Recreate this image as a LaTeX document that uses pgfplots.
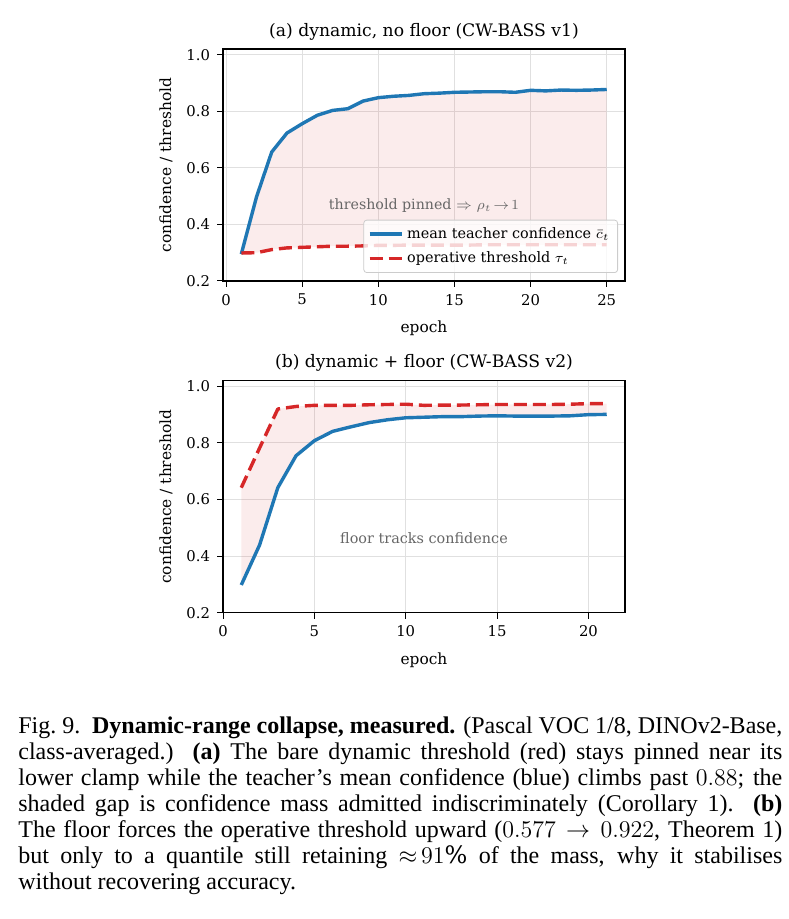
\documentclass[border=0pt]{standalone}
\usepackage{fontspec}
\setmainfont{DejaVu Serif}
\newfontfamily\capfont{Liberation Serif}
\usepackage{pgfplots}
\pgfplotsset{compat=1.18}
\usepackage{pgfplotstable}
\usepgfplotslibrary{fillbetween}

\definecolor{tabblue}{HTML}{1F77B4}
\definecolor{tabred}{HTML}{D62728}

% panel (a): dynamic threshold, no floor
\pgfplotstableread{
epoch conf thr
1  0.295 0.299
2  0.497 0.300
3  0.656 0.311
4  0.723 0.317
5  0.756 0.319
6  0.786 0.321
7  0.803 0.323
8  0.809 0.323
9  0.836 0.324
10 0.848 0.326
11 0.853 0.326
12 0.856 0.327
13 0.862 0.327
14 0.864 0.327
15 0.867 0.327
16 0.868 0.327
17 0.869 0.328
18 0.869 0.328
19 0.867 0.328
20 0.874 0.328
21 0.872 0.328
22 0.875 0.328
23 0.874 0.328
24 0.875 0.328
25 0.877 0.328
}\dataA

% panel (b): dynamic threshold + floor
\pgfplotstableread{
epoch conf thr
1  0.298 0.642
2  0.439 0.782
3  0.642 0.920
4  0.755 0.929
5  0.808 0.933
6  0.841 0.933
7  0.857 0.933
8  0.872 0.935
9  0.882 0.936
10 0.889 0.937
11 0.891 0.933
12 0.893 0.934
13 0.893 0.934
14 0.895 0.935
15 0.896 0.936
16 0.895 0.936
17 0.895 0.936
18 0.895 0.936
19 0.896 0.937
20 0.900 0.939
21 0.901 0.939
}\dataB

\pgfplotsset{
  cwpanel/.style={
    scale only axis, width=201pt, height=116pt,
    ymin=0.2, ymax=1.02,
    ytick={0.2,0.4,0.6,0.8,1.0},
    yticklabel style={/pgf/number format/fixed,
      /pgf/number format/fixed zerofill, /pgf/number format/precision=1},
    /pgf/number format/assume math mode=true,
    grid=major, grid style={black!12, line width=0.5pt},
    tick align=outside, tick pos=left, major tick length=3pt,
    every tick/.style={black, line width=0.5pt},
    axis line style={line width=0.6pt},
    tick label style={font=\fontsize{7.4}{8}\selectfont},
    label style={font=\fontsize{7.7}{8}\selectfont},
    title style={font=\fontsize{8.6}{9}\selectfont, yshift=-5pt},
    xlabel=epoch, ylabel={confidence / threshold},
    xlabel style={yshift=-1pt},
    ylabel style={yshift=0pt},
  },
  conf/.style={tabblue, line width=1.7pt, line join=round},
  thr/.style={tabred, line width=1.7pt, dash pattern=on 6.5pt off 3pt, line join=round},
}

\begin{document}
\begin{tikzpicture}

\begin{axis}[cwpanel,
  at={(111.5pt,-140.5pt)}, anchor=south west,
  xmin=-0.2, xmax=26.2, xtick={0,5,10,15,20,25},
  title={(a) dynamic, no floor (CW-BASS v1)},
  legend style={at={(1,0)}, anchor=south east, xshift=-3.5pt, yshift=4pt,
    font=\fontsize{7.2}{9}\selectfont, draw=black!20, rounded corners=1.5pt,
    fill=white, fill opacity=0.8, draw opacity=1, text opacity=1,
    inner xsep=2pt, inner ysep=1.5pt, row sep=1.3pt, cells={anchor=west}},
  legend image code/.code={\draw[#1] (0pt,0pt) -- (16pt,0pt);},
]
\addplot[draw=none, name path=ca, forget plot] table[x=epoch, y=conf] {\dataA};
\addplot[draw=none, name path=ta, forget plot] table[x=epoch, y=thr] {\dataA};
\addplot[tabred, fill opacity=0.09, draw=none, forget plot] fill between[of=ca and ta];
\addplot[conf] table[x=epoch, y=conf] {\dataA};
\addlegendentry{mean teacher confidence $\bar{c}_t$}
\addplot[thr] table[x=epoch, y=thr] {\dataA};
\addlegendentry{operative threshold $\tau_t$}
\node[black!60, font=\fontsize{7.1}{8}\selectfont] at (axis cs:13,0.467)
  {threshold pinned $\Rightarrow$ $\rho_t\!\to\!1$};
\end{axis}

\begin{axis}[cwpanel,
  at={(111.5pt,-306.35pt)}, anchor=south west,
  xmin=0, xmax=22, xtick={0,5,10,15,20},
  title={(b) dynamic + floor (CW-BASS v2)},
]
\addplot[draw=none, name path=cb, forget plot] table[x=epoch, y=conf] {\dataB};
\addplot[draw=none, name path=tb, forget plot] table[x=epoch, y=thr] {\dataB};
\addplot[tabred, fill opacity=0.09, draw=none, forget plot] fill between[of=cb and tb];
\addplot[conf] table[x=epoch, y=conf] {\dataB};
\addplot[thr] table[x=epoch, y=thr] {\dataB};
\node[black!60, font=\fontsize{7.2}{8}\selectfont] at (axis cs:11,0.464)
  {floor tracks confidence};
\end{axis}

\node[anchor=base west, inner sep=0pt, text width=382pt, align=justify,
  font=\capfont\fontsize{12}{13}\selectfont] at (9pt,-366.5pt)
{Fig.~9.\ \ \textbf{Dynamic-range collapse, measured.} (Pascal VOC 1/8, \mbox{DINOv2-Base,}\linebreak
class-averaged.) \textbf{(a)} The bare dynamic threshold (red) stays pinned near its\linebreak
lower clamp while the teacher’s mean confidence (blue) climbs past $0.88$; the\linebreak
shaded gap is confidence mass admitted indiscriminately (Corollary 1). \textbf{(b)}\linebreak
The floor forces the operative threshold upward ($0.577 \to 0.922$, Theorem 1)\linebreak
but only to a quantile still retaining ${\approx}\,91\%$ of the mass, why it stabilises\linebreak
without recovering accuracy.};

\pgfresetboundingbox
\path[use as bounding box] (0,0) rectangle (394pt,-459.5pt);
\end{tikzpicture}
\end{document}
